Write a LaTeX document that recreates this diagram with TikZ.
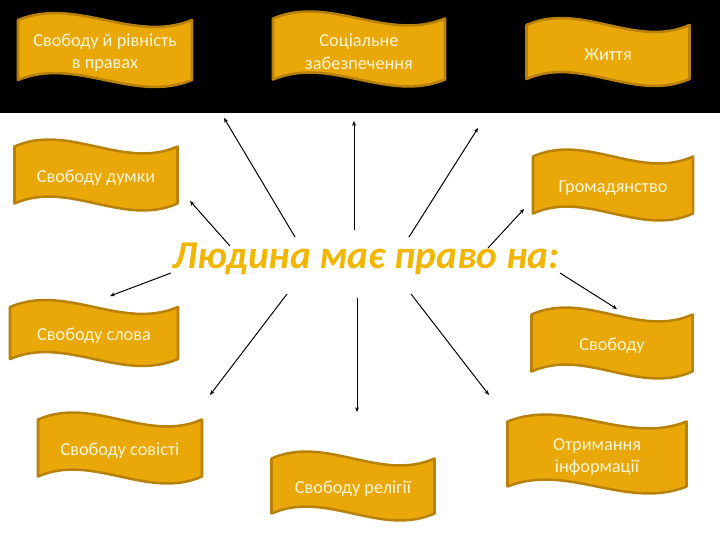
\documentclass[tikz,border=0pt]{standalone}
\usepackage{fontspec}
\setmainfont{Carlito}
\usepackage{xcolor}
\usepackage{tikz}
\usetikzlibrary{arrows.meta}
\usetikzlibrary{positioning}
\definecolor{FlagGold}{RGB}{234,168,8}
\definecolor{FlagEdge}{RGB}{184,130,10}
\definecolor{FlagText}{RGB}{255,245,215}
\definecolor{TitleGold}{RGB}{242,182,0}
\tikzset{
  FlagShape/.style={
    fill=FlagGold, draw=FlagEdge, line width=1.8pt, line join=round,
  },
  FlagText/.style={
    text=FlagText, align=center, inner sep=0pt, yshift=-2pt,
    font=\fontsize{13}{16}\selectfont,
  },
  Ray/.style={
    -{Stealth[length=1.2mm,width=1mm]}, line width=0.7pt, draw=black,
  },
}
% #1 name, #2 cx, #3 cy, #4 width, #5 height, #6 text
\newcommand\WaveFlag[6]{%
  \draw[FlagShape] ({#2-#4/2},{#3-#5/2})
    .. controls ({#2-#4/6},{#3-#5/2-24}) and ({#2+#4/6},{#3-#5/2+24}) .. ({#2+#4/2},{#3-#5/2})
    -- ({#2+#4/2},{#3+#5/2})
    .. controls ({#2+#4/6},{#3+#5/2+24}) and ({#2-#4/6},{#3+#5/2-24}) .. ({#2-#4/2},{#3+#5/2})
    -- cycle;
  \node[FlagText] (#1) at (#2,#3) {#6};
}

\begin{document}
\begin{tikzpicture}[x=0.025cm, y=-0.025cm]
\useasboundingbox (0,0) rectangle (720,540);
\fill[white] (0,0) rectangle (720,540);
\fill[black] (0,0) rectangle (720,113);
\WaveFlag{Rivnist}{105}{50}{174}{60}{Свободу й рівність\\в правах}
\WaveFlag{Social}{359}{49}{172}{61}{Соціальне\\забезпечення}
\WaveFlag{Zhyttia}{608}{52}{163}{54}{Життя}
\WaveFlag{Dumka}{96}{175}{163}{57}{Свободу думки}
\WaveFlag{Hromad}{613}{185}{160}{57}{Громадянство}
\WaveFlag{Slovo}{94}{333}{168}{52}{Свободу слова}
\WaveFlag{Svoboda}{612}{343}{161}{57}{Свободу}
\WaveFlag{Sovist}{120}{448}{164}{57}{Свободу совісті}
\WaveFlag{Relig}{353}{486}{163}{55}{Свободу релігії}
\WaveFlag{Inform}{597}{454}{179}{65}{Отримання\\інформації}
\node[text=TitleGold, font=\fontsize{28}{32}\bfseries\itshape\selectfont, inner sep=0pt] (Pravo) at (366,259) {Людина має право на:};
% rays from the title
\foreach \i/\sx/\sy/\ex/\ey in {1/295/237/224/118, 2/354/230/354/121, 3/409/237/478/128,
    4/230/246/190/201, 5/488/248/524/209, 6/171/273/110/296, 7/560/273/617/309,
    8/287/294/210/395, 9/357/298/357/412, 10/411/294/489/395} {
  \coordinate (s\i) at (\sx,\sy);
  \coordinate (e\i) at (\ex,\ey);
  \draw[Ray] (s\i) -- (e\i);
}
\end{tikzpicture}
\end{document}
